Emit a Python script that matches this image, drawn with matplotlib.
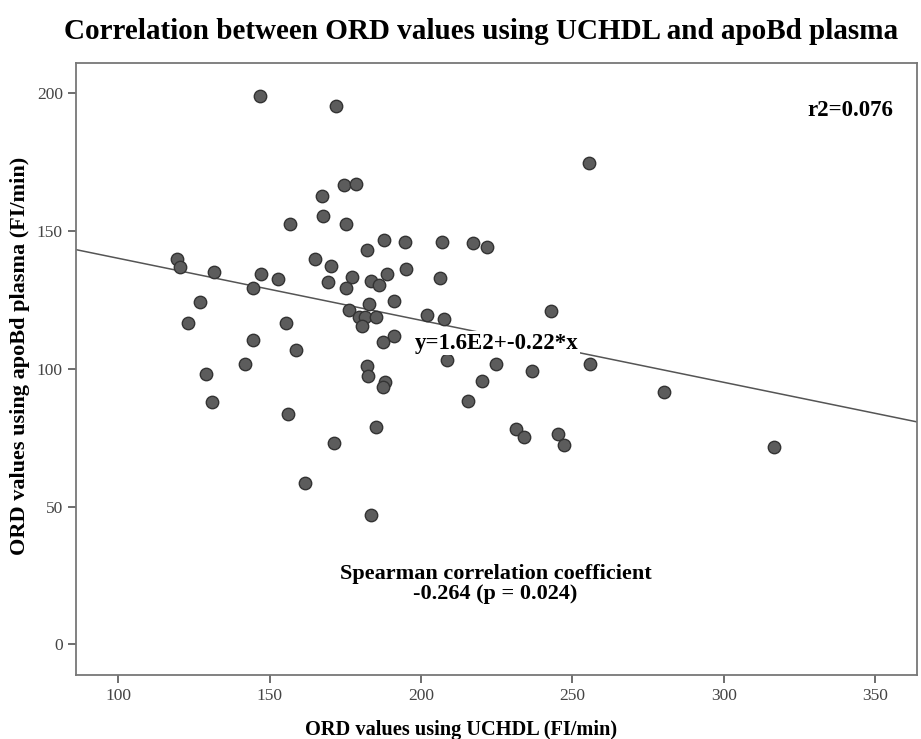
import numpy as np
import matplotlib
matplotlib.use("Agg")
import matplotlib.pyplot as plt

plt.rcParams['font.family'] = ['Liberation Serif', 'DejaVu Serif']

# ORD values (x = UCHDL, y = apoBd plasma)
ord_uchdl = [146.8, 171.9, 255.4, 174.4, 178.5, 167.3, 167.5, 156.8, 175.1, 187.7,
             194.8, 207.0, 217.1, 221.8, 182.1, 119.5, 120.5, 165.1, 170.2, 195.1,
             131.5, 147.1, 188.6, 177.1, 206.1, 152.8, 169.4, 183.6, 186.2, 175.3,
             144.4, 127.1, 191.0, 182.8, 176.1, 243.0, 202.0, 179.5, 181.6, 185.1,
             207.5, 123.1, 155.4, 180.6, 191.0, 144.5, 187.4, 158.7, 208.5, 141.8,
             182.0, 224.8, 255.8, 236.5, 128.9, 182.4, 220.0, 188.2, 187.4, 280.2,
             131.0, 215.5, 155.9, 185.1, 231.2, 233.9, 245.3, 247.1, 171.3, 316.6,
             161.7, 183.4]
ord_apobd = [199.1, 195.3, 174.6, 166.6, 167.0, 162.6, 155.4, 152.4, 152.6, 146.6,
             146.0, 145.9, 145.6, 144.2, 143.1, 139.9, 137.0, 139.7, 137.3, 136.3,
             135.1, 134.3, 134.4, 133.4, 133.0, 132.5, 131.6, 131.8, 130.3, 129.2,
             129.2, 124.2, 124.5, 123.4, 121.5, 121.1, 119.4, 118.7, 118.9, 118.8,
             118.0, 116.7, 116.5, 115.6, 112.0, 110.3, 109.7, 106.7, 103.2, 101.6,
             101.0, 101.6, 101.6, 99.2, 98.2, 97.3, 95.6, 95.1, 93.3, 91.5,
             88.1, 88.2, 83.6, 78.9, 78.0, 75.4, 76.3, 72.3, 73.2, 71.7,
             58.4, 46.9]

# fit line as drawn in the reference
fit_intercept = 162.6
fit_slope = -0.225

xticks = [100, 150, 200, 250, 300, 350]
yticks = [0, 50, 100, 150, 200]

fig = plt.figure(figsize=(9.21, 7.39), dpi=100)
ax = fig.add_axes([0.0825, 0.0866, 0.9135, 0.8286])

xlim = (86.0, 363.9)
ylim = (-11.1, 211.1)
ax.set_xlim(xlim)
ax.set_ylim(ylim)

xx = np.array(xlim)
ax.plot(xx, fit_intercept + fit_slope * xx, color='#555555', lw=1.1, zorder=2)

ax.scatter(ord_uchdl, ord_apobd, s=80, facecolor='#5c5c5c', edgecolor='#333333',
           linewidths=1.0, zorder=3)

ax.text(198.0, 109.3, 'y=1.6E2+-0.22*x', fontsize=16.5, fontweight='bold',
        ha='left', va='center', zorder=4,
        bbox=dict(facecolor='white', edgecolor='none', pad=1.0))
ax.text(355.8, 193.7, 'r2=0.076', fontsize=16.5, fontweight='bold',
        ha='right', va='center')
ax.text(224.6, 21.9, 'Spearman correlation coefficient\n-0.264 (p = 0.024)',
        fontsize=16, fontweight='bold', ha='center', va='center',
        multialignment='center', linespacing=1.0)

ax.set_xticks(xticks)
ax.set_yticks(yticks)
ax.tick_params(axis='both', labelsize=12.5, labelcolor='#444444', color='#555555',
               length=6, width=1.2, direction='out')
for s in ax.spines.values():
    s.set_color('#777777')
    s.set_linewidth(1.3)

ax.set_xlabel('ORD values using UCHDL (FI/min)', fontsize=14.7, fontweight='bold',
              va='center')
ax.xaxis.set_label_coords(0.458, -0.090)
ax.set_ylabel('ORD values using apoBd plasma (FI/min)', fontsize=16,
              fontweight='bold', va='center')
ax.yaxis.set_label_coords(-0.066, 0.521)
fig.text(0.522, 0.957, 'Correlation between ORD values using UCHDL and apoBd plasma',
         fontsize=21, fontweight='bold', ha='center', va='center')

fig.savefig('out.png', dpi=100)
